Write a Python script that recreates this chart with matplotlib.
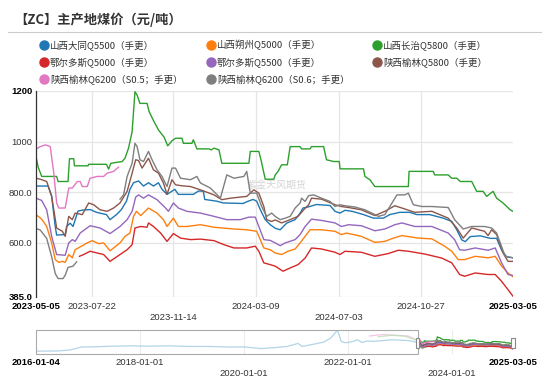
import numpy as np
import pandas as pd
import matplotlib
matplotlib.use('Agg')
import matplotlib.pyplot as plt
import matplotlib.dates as mdates
import matplotlib.transforms as mtransforms
from matplotlib.lines import Line2D
from matplotlib.patches import Rectangle

plt.rcParams['font.family'] = ['Noto Sans CJK SC', 'DejaVu Sans']

# ---- data (date, 元/吨) ----
datong_q5500 = [
    ('2023-05-05', 824), ('2023-05-22', 824), ('2023-05-27', 784), ('2023-06-01', 664), ('2023-06-03', 630),
    ('2023-06-15', 632), ('2023-06-17', 664), ('2023-06-22', 677), ('2023-06-26', 664), ('2023-07-03', 725),
    ('2023-07-10', 729), ('2023-07-20', 731), ('2023-07-29', 720), ('2023-08-12', 711), ('2023-08-17', 691),
    ('2023-08-26', 711), ('2023-09-02', 731), ('2023-09-09', 764), ('2023-09-14', 811), ('2023-09-19', 837),
    ('2023-09-26', 844), ('2023-10-03', 824), ('2023-10-10', 837), ('2023-10-17', 824), ('2023-10-24', 837),
    ('2023-10-29', 811), ('2023-11-05', 791), ('2023-11-10', 800), ('2023-11-16', 811), ('2023-11-21', 791),
    ('2023-12-12', 791), ('2023-12-19', 804), ('2023-12-26', 804), ('2023-12-28', 771), ('2024-01-14', 764),
    ('2024-01-23', 757), ('2024-02-20', 755), ('2024-02-27', 764), ('2024-03-05', 771), ('2024-03-10', 764),
    ('2024-03-15', 731), ('2024-03-22', 691), ('2024-03-29', 671), ('2024-04-05', 657), ('2024-04-12', 651),
    ('2024-04-21', 677), ('2024-05-03', 691), ('2024-05-10', 717), ('2024-05-14', 737), ('2024-05-21', 741),
    ('2024-06-02', 751), ('2024-06-21', 747), ('2024-06-28', 724), ('2024-07-05', 717), ('2024-07-12', 728),
    ('2024-07-22', 724), ('2024-08-07', 711), ('2024-08-21', 697), ('2024-09-04', 697), ('2024-09-13', 711),
    ('2024-09-27', 720), ('2024-10-11', 720), ('2024-10-21', 711), ('2024-11-08', 711), ('2024-11-27', 697),
    ('2024-12-09', 684), ('2024-12-16', 651), ('2024-12-23', 611), ('2024-12-28', 604), ('2025-01-04', 624),
    ('2025-01-18', 627), ('2025-02-01', 617), ('2025-02-10', 617), ('2025-02-17', 571), ('2025-02-24', 544),
    ('2025-03-05', 540),
]

shuozhou_q5000 = [
    ('2023-05-05', 711), ('2023-05-13', 693), ('2023-05-20', 664), ('2023-05-27', 599), ('2023-06-01', 533),
    ('2023-06-06', 522), ('2023-06-11', 526), ('2023-06-15', 522), ('2023-06-20', 553), ('2023-06-25', 540),
    ('2023-06-29', 572), ('2023-07-06', 583), ('2023-07-16', 599), ('2023-07-23', 608), ('2023-08-01', 596),
    ('2023-08-08', 599), ('2023-08-17', 568), ('2023-08-31', 599), ('2023-09-07', 625), ('2023-09-14', 638),
    ('2023-09-19', 704), ('2023-09-23', 724), ('2023-09-29', 707), ('2023-10-10', 737), ('2023-10-22', 717),
    ('2023-10-31', 691), ('2023-11-05', 664), ('2023-11-14', 697), ('2023-11-21', 664), ('2023-12-03', 664),
    ('2023-12-22', 671), ('2024-01-10', 661), ('2024-02-07', 654), ('2024-02-25', 651), ('2024-03-10', 645),
    ('2024-03-15', 612), ('2024-03-20', 579), ('2024-03-29', 572), ('2024-04-05', 559), ('2024-04-14', 553),
    ('2024-04-23', 566), ('2024-05-03', 575), ('2024-05-10', 599), ('2024-05-17', 625), ('2024-05-24', 651),
    ('2024-06-09', 651), ('2024-06-28', 645), ('2024-07-07', 632), ('2024-07-14', 638), ('2024-08-04', 625),
    ('2024-08-23', 601), ('2024-09-06', 605), ('2024-09-18', 618), ('2024-09-30', 628), ('2024-10-23', 618),
    ('2024-11-11', 615), ('2024-11-29', 586), ('2024-12-09', 566), ('2024-12-18', 533), ('2024-12-27', 533),
    ('2025-01-11', 546), ('2025-01-29', 540), ('2025-02-08', 546), ('2025-02-17', 507), ('2025-02-26', 480),
    ('2025-03-05', 465),
]

changzhi_q5800 = [
    ('2023-05-05', 941), ('2023-05-08', 899), ('2023-05-13', 862), ('2023-06-03', 862), ('2023-06-05', 842),
    ('2023-06-19', 842), ('2023-06-21', 932), ('2023-06-27', 932), ('2023-06-28', 904), ('2023-07-17', 904),
    ('2023-07-18', 910), ('2023-08-12', 910), ('2023-08-15', 891), ('2023-08-18', 914), ('2023-09-03', 921),
    ('2023-09-07', 934), ('2023-09-12', 974), ('2023-09-17', 1039), ('2023-09-21', 1197), ('2023-09-24', 1184),
    ('2023-09-28', 1151), ('2023-10-08', 1151), ('2023-10-11', 1118), ('2023-10-17', 1083), ('2023-10-24', 1046),
    ('2023-11-01', 1017), ('2023-11-06', 983), ('2023-11-12', 1003), ('2023-11-17', 1013), ('2023-11-26', 1013),
    ('2023-11-28', 993), ('2023-12-10', 993), ('2023-12-12', 1007), ('2023-12-17', 971), ('2024-01-03', 971),
    ('2024-01-06', 967), ('2024-01-10', 974), ('2024-01-17', 967), ('2024-01-21', 914), ('2024-02-28', 914),
    ('2024-03-01', 961), ('2024-03-13', 961), ('2024-03-16', 928), ('2024-03-22', 851), ('2024-04-03', 851),
    ('2024-04-05', 868), ('2024-04-09', 882), ('2024-04-14', 908), ('2024-04-22', 908), ('2024-04-26', 980),
    ('2024-05-10', 980), ('2024-05-12', 971), ('2024-05-24', 971), ('2024-05-26', 980), ('2024-06-12', 980),
    ('2024-06-16', 928), ('2024-06-26', 921), ('2024-07-04', 921), ('2024-07-05', 892), ('2024-08-07', 892),
    ('2024-08-09', 862), ('2024-08-16', 849), ('2024-08-23', 822), ('2024-10-09', 822), ('2024-10-10', 882),
    ('2024-11-13', 882), ('2024-11-15', 868), ('2024-12-04', 868), ('2024-12-09', 855), ('2024-12-16', 855),
    ('2024-12-21', 842), ('2025-01-06', 842), ('2025-01-13', 803), ('2025-01-22', 803), ('2025-01-27', 783),
    ('2025-02-05', 803), ('2025-02-10', 776), ('2025-02-19', 757), ('2025-03-01', 730), ('2025-03-05', 724),
]

ordos_q5000 = [
    ('2023-07-05', 546), ('2023-07-11', 553), ('2023-07-20', 566), ('2023-07-30', 559), ('2023-08-08', 553),
    ('2023-08-17', 526), ('2023-08-31', 553), ('2023-09-10', 572), ('2023-09-17', 592), ('2023-09-21', 658),
    ('2023-09-29', 664), ('2023-10-08', 661), ('2023-10-10', 678), ('2023-10-17', 664), ('2023-10-27', 638),
    ('2023-11-05', 605), ('2023-11-14', 636), ('2023-11-24', 618), ('2023-12-08', 612), ('2023-12-22', 614),
    ('2024-01-10', 608), ('2024-01-24', 592), ('2024-02-07', 579), ('2024-02-25', 579), ('2024-03-08', 586),
    ('2024-03-13', 566), ('2024-03-20', 520), ('2024-03-29', 513), ('2024-04-05', 507), ('2024-04-16', 487),
    ('2024-04-26', 500), ('2024-05-07', 513), ('2024-05-17', 539), ('2024-05-26', 579), ('2024-06-09', 575),
    ('2024-06-28', 562), ('2024-07-05', 553), ('2024-07-12', 566), ('2024-08-04', 562), ('2024-08-23', 546),
    ('2024-09-11', 557), ('2024-09-25', 570), ('2024-10-09', 566), ('2024-11-01', 555), ('2024-11-25', 539),
    ('2024-12-09', 520), ('2024-12-20', 474), ('2024-12-27', 467), ('2025-01-11', 480), ('2025-01-29', 474),
    ('2025-02-08', 474), ('2025-02-17', 447), ('2025-02-26', 414), ('2025-03-05', 388),
]

ordos_q5500 = [
    ('2023-05-05', 776), ('2023-05-13', 767), ('2023-05-20', 730), ('2023-05-27', 625), ('2023-06-03', 553),
    ('2023-06-15', 550), ('2023-06-20', 599), ('2023-06-25', 612), ('2023-06-29', 605), ('2023-07-06', 638),
    ('2023-07-20', 667), ('2023-08-03', 658), ('2023-08-17', 636), ('2023-08-31', 664), ('2023-09-10', 691),
    ('2023-09-17', 724), ('2023-09-22', 780), ('2023-09-26', 789), ('2023-10-03', 776), ('2023-10-10', 789),
    ('2023-10-22', 770), ('2023-11-03', 737), ('2023-11-07', 724), ('2023-11-14', 757), ('2023-11-21', 737),
    ('2023-12-03', 724), ('2023-12-22', 717), ('2024-01-10', 704), ('2024-01-28', 691), ('2024-02-16', 691),
    ('2024-02-28', 701), ('2024-03-08', 701), ('2024-03-13', 664), ('2024-03-20', 612), ('2024-03-29', 609),
    ('2024-04-05', 599), ('2024-04-12', 588), ('2024-04-19', 599), ('2024-05-03', 612), ('2024-05-10', 632),
    ('2024-05-17', 664), ('2024-05-26', 693), ('2024-06-09', 688), ('2024-06-28', 678), ('2024-07-07', 664),
    ('2024-07-17', 671), ('2024-08-04', 667), ('2024-08-23', 647), ('2024-09-06', 654), ('2024-09-20', 671),
    ('2024-09-30', 678), ('2024-10-18', 664), ('2024-11-11', 664), ('2024-12-04', 638), ('2024-12-13', 612),
    ('2024-12-20', 572), ('2024-12-27', 570), ('2025-01-11', 579), ('2025-01-29', 570), ('2025-02-08', 579),
    ('2025-02-17', 520), ('2025-02-26', 474), ('2025-03-05', 470),
]

yulin_q5800 = [
    ('2023-05-05', 855), ('2023-05-11', 851), ('2023-05-20', 842), ('2023-05-27', 783), ('2023-06-03', 658),
    ('2023-06-11', 645), ('2023-06-15', 625), ('2023-06-20', 704), ('2023-06-25', 691), ('2023-06-29', 717),
    ('2023-07-09', 711), ('2023-07-18', 757), ('2023-07-25', 750), ('2023-08-03', 730), ('2023-08-13', 724),
    ('2023-08-22', 737), ('2023-08-31', 757), ('2023-09-10', 803), ('2023-09-17', 875), ('2023-09-22', 928),
    ('2023-09-26', 925), ('2023-10-01', 895), ('2023-10-10', 934), ('2023-10-17', 888), ('2023-10-24', 875),
    ('2023-10-31', 836), ('2023-11-05', 791), ('2023-11-12', 849), ('2023-11-17', 829), ('2023-11-26', 825),
    ('2023-12-08', 822), ('2023-12-22', 809), ('2024-01-10', 789), ('2024-01-21', 770), ('2024-02-02', 776),
    ('2024-02-25', 783), ('2024-03-06', 809), ('2024-03-13', 796), ('2024-03-20', 743), ('2024-03-24', 691),
    ('2024-03-31', 684), ('2024-04-05', 690), ('2024-04-14', 678), ('2024-04-26', 691), ('2024-05-07', 704),
    ('2024-05-15', 730), ('2024-05-22', 750), ('2024-05-26', 776), ('2024-06-09', 772), ('2024-06-28', 750),
    ('2024-07-07', 743), ('2024-07-17', 739), ('2024-08-04', 730), ('2024-08-23', 707), ('2024-09-06', 724),
    ('2024-09-20', 746), ('2024-09-30', 737), ('2024-10-18', 720), ('2024-11-11', 724), ('2024-12-04', 697),
    ('2024-12-16', 658), ('2024-12-25', 618), ('2025-01-06', 658), ('2025-01-24', 645), ('2025-01-29', 628),
    ('2025-02-03', 651), ('2025-02-10', 632), ('2025-02-19', 559), ('2025-02-26', 526), ('2025-03-05', 526),
]

yulin_q6200_s05 = [
    ('2023-05-05', 970), ('2023-05-11', 980), ('2023-05-18', 987), ('2023-05-25', 980), ('2023-05-30', 875),
    ('2023-06-03', 757), ('2023-06-06', 737), ('2023-06-15', 737), ('2023-06-20', 816), ('2023-06-25', 816),
    ('2023-07-02', 842), ('2023-07-06', 842), ('2023-07-09', 822), ('2023-07-16', 822), ('2023-07-20', 855),
    ('2023-07-30', 862), ('2023-08-08', 862), ('2023-08-13', 875), ('2023-08-22', 882), ('2023-08-29', 899),
]

# gap in the middle (no quotes between early July and end of August 2023)
yulin_q6200_s06 = [
    ('2023-05-05', 656), ('2023-05-11', 650), ('2023-05-20', 617), ('2023-05-27', 544), ('2023-06-01', 478),
    ('2023-06-05', 458), ('2023-06-12', 458), ('2023-06-15', 471), ('2023-06-19', 502), ('2023-06-26', 507),
    ('2023-07-01', 524), ('2023-07-20', np.nan),
    ('2023-08-31', 772), ('2023-09-05', 789), ('2023-09-10', 862), ('2023-09-17', 914), ('2023-09-21', 993),
    ('2023-09-24', 980), ('2023-09-28', 928), ('2023-10-03', 921), ('2023-10-10', 961), ('2023-10-15', 928),
    ('2023-10-22', 888), ('2023-10-29', 862), ('2023-11-05', 822), ('2023-11-12', 895), ('2023-11-17', 895),
    ('2023-11-24', 855), ('2023-12-08', 849), ('2023-12-17', 862), ('2023-12-22', 836), ('2024-01-05', 816),
    ('2024-01-19', 776), ('2024-01-28', 868), ('2024-02-07', 855), ('2024-02-21', 862), ('2024-02-25', 882),
    ('2024-03-01', 796), ('2024-03-10', 796), ('2024-03-17', 743), ('2024-03-24', 704), ('2024-03-31', 717),
    ('2024-04-05', 704), ('2024-04-12', 691), ('2024-04-19', 697), ('2024-04-26', 704), ('2024-05-03', 737),
    ('2024-05-10', 757), ('2024-05-12', 776), ('2024-05-17', 763), ('2024-05-22', 786), ('2024-05-29', 789),
    ('2024-06-09', 776), ('2024-06-21', 763), ('2024-06-28', 743), ('2024-07-05', 750), ('2024-07-12', 746),
    ('2024-07-26', 741), ('2024-08-09', 730), ('2024-08-28', 704), ('2024-09-06', 711), ('2024-09-13', 743),
    ('2024-09-23', 789), ('2024-10-04', 789), ('2024-10-09', 796), ('2024-10-16', 750), ('2024-10-28', 743),
    ('2024-11-11', 743), ('2024-12-04', 739), ('2024-12-13', 691), ('2024-12-25', 654), ('2025-01-06', 664),
    ('2025-01-24', 664), ('2025-02-03', 658), ('2025-02-10', 638), ('2025-02-22', 546), ('2025-03-05', 540),
]

# long history, drawn faded inside the zoom slider
history_main = [
    ('2016-01-04', 250), ('2016-06-01', 260), ('2016-09-01', 330), ('2016-11-15', 520), ('2017-03-01', 540),
    ('2017-07-01', 580), ('2017-11-01', 600), ('2018-03-01', 580), ('2018-08-01', 600), ('2018-12-01', 560),
    ('2019-05-01', 560), ('2019-10-01', 520), ('2020-01-01', 530), ('2020-05-01', 420), ('2020-08-01', 480),
    ('2020-11-01', 560), ('2021-01-15', 760), ('2021-02-15', 560), ('2021-05-01', 700), ('2021-07-15', 850),
    ('2021-09-01', 1100), ('2021-10-20', 1640), ('2021-11-15', 900), ('2021-12-15', 800), ('2022-02-01', 880),
    ('2022-03-10', 1000), ('2022-04-10', 820), ('2022-05-15', 920), ('2022-07-01', 900), ('2022-09-01', 950),
    ('2022-11-01', 1000), ('2023-01-01', 980), ('2023-03-01', 950), ('2023-05-05', 824),
]
history_pink = [('2022-06-01', 1250), ('2022-09-01', 1350), ('2022-12-01', 1300), ('2023-03-01', 1250), ('2023-05-05', 970)]
history_green = [('2022-08-01', 1200), ('2022-11-01', 1300), ('2023-02-01', 1250), ('2023-05-05', 941)]

names = ['山西大同Q5500（手更）', '山西朔州Q5000（手更）', '山西长治Q5800（手更）',
         '鄂尔多斯Q5000（手更）', '鄂尔多斯Q5500（手更）', '陕西榆林Q5800（手更）',
         '陕西榆林Q6200（S0.5；手更）', '陕西榆林Q6200（S0.6；手更）']
colors = ['#1f77b4', '#ff7f0e', '#2ca02c', '#d62728', '#9467bd', '#8c564b', '#e377c2', '#7f7f7f']
series = [datong_q5500, shuozhou_q5000, changzhi_q5800, ordos_q5000,
          ordos_q5500, yulin_q5800, yulin_q6200_s05, yulin_q6200_s06]

y_ticks = [385, 600, 800, 1000, 1200]
y_labels = ['385.0', '600.0', '800.0', '1000', '1200']
# second row of the staggered date labels
x_ticks = ['2023-05-05', '2023-07-22', '2023-11-14', '2024-03-09', '2024-07-03', '2024-10-27', '2025-03-05']
x_lower = ['2023-11-14', '2024-07-03']
slider_ticks = ['2016-01-04', '2018-01-01', '2020-01-01', '2022-01-01', '2024-01-01', '2025-03-05']
slider_lower = ['2020-01-01', '2024-01-01']


def to_frame(pairs):
    df = pd.DataFrame(pairs, columns=['date', 'value'])
    df['date'] = pd.to_datetime(df['date'])
    return df


W, H = 550, 380


def px_box(l, t, r, b):
    return [l / W, 1 - b / H, (r - l) / W, (b - t) / H]


def date_labels(axis, ticks, lower, y_top):
    # date labels under an axis, in two staggered rows; first and last in bold
    trans = mtransforms.blended_transform_factory(axis.transData, fig.transFigure)
    for i, d in enumerate(ticks):
        row = 1 if d in lower else 0
        bold = i in (0, len(ticks) - 1)
        axis.text(mdates.date2num(pd.Timestamp(d)), 1 - (y_top + 10.5 * row) / H, d, transform=trans,
                  ha='center', va='center', family='Liberation Sans', fontsize=6.8,
                  fontweight='bold' if bold else 'normal', color='black' if bold else '#333333')


fig = plt.figure(figsize=(W / 100, H / 100), dpi=100)

# title + separator
fig.text(14 / W, 1 - 20 / H, '【ZC】主产地煤价（元/吨）', fontsize=9.5, fontweight='bold',
         color='#333333', va='center', ha='left')
fig.add_artist(Line2D([8 / W, 541 / W], [1 - 32 / H] * 2, color='#cccccc', lw=0.8))

# legend
col_x = [44, 211, 377]
row_y = [45, 62, 79]
for i, (name, color) in enumerate(zip(names, colors)):
    cx, cy = col_x[i % 3], row_y[i // 3]
    fig.add_artist(Line2D([cx / W], [1 - cy / H], marker='o', ms=6.5, color=color, lw=0))
    fig.text((cx + 6) / W, 1 - cy / H, name, fontsize=6.8, color='#333333', va='center', ha='left')

# ---- main chart ----
ax = fig.add_axes(px_box(36, 91, 513, 297))
x0, x1 = pd.Timestamp('2023-05-05'), pd.Timestamp('2025-03-05')
ax.set_xlim(x0, x1)
ax.set_ylim(385, 1200)

for y in y_ticks:
    ax.axhline(y, color='#e6e6e6', lw=0.9, zorder=0)
for d in x_ticks[1:-1]:
    ax.axvline(pd.Timestamp(d), color='#e6e6e6', lw=0.9, zorder=0)

for pairs, color in zip(series, colors):
    df = to_frame(pairs)
    ax.plot(df['date'], df['value'], color=color, lw=1.0, zorder=2)

ax.text(0.505, 0.545, '紫金天风期货', transform=ax.transAxes, fontsize=7.2,
        color='#d4d4d4', ha='center', va='center', zorder=1)

for side in ['top', 'right', 'bottom']:
    ax.spines[side].set_visible(False)
ax.spines['left'].set_color('#333333')
ax.spines['left'].set_linewidth(0.9)
ax.set_xticks([])
ax.set_yticks(y_ticks)
ax.set_yticklabels(y_labels, family='Liberation Sans', fontsize=6.8, color='#333333')
ax.tick_params(axis='y', length=0, pad=2.5)
for i in (0, -1):
    ax.get_yticklabels()[i].set_fontweight('bold')
    ax.get_yticklabels()[i].set_color('black')

date_labels(ax, x_ticks, x_lower, 306.7)

# ---- zoom slider ----
sx = fig.add_axes(px_box(36, 330, 513, 354))
s0, s1 = pd.Timestamp('2016-01-04'), pd.Timestamp('2025-03-05')
sx.set_xlim(s0, s1)
sx.set_ylim(60, 1650)
sx.axis('off')
for d in slider_ticks[1:-1]:
    sx.axvline(pd.Timestamp(d), color='#ececec', lw=0.8, zorder=0)

for pairs, color in [(history_main, '#9ecae1'), (history_pink, '#f2b8dc'), (history_green, '#b8e0b0')]:
    df = to_frame(pairs)
    sx.plot(df['date'], df['value'], color=color, lw=0.9, alpha=0.8, zorder=1)
for pairs, color in zip(series, colors):
    df = to_frame(pairs)
    sx.plot(df['date'], df['value'], color=color, lw=0.9, zorder=2)

strans = mtransforms.blended_transform_factory(sx.transData, sx.transAxes)
sx.add_patch(Rectangle((mdates.date2num(s0), 0), mdates.date2num(x0) - mdates.date2num(s0), 1,
                       transform=strans, fill=False, ec='#aaaaaa', lw=0.8, clip_on=False, zorder=3))

# window handles, drawn at the selected range ends
span = mdates.date2num(s1) - mdates.date2num(s0)
for d in (x0, x1):
    hx = 36 + 477 * (mdates.date2num(d) - mdates.date2num(s0)) / span
    fig.add_artist(Rectangle(((hx - 1.8) / W, 1 - 348 / H), 3.6 / W, 10 / H,
                             transform=fig.transFigure, fc='white', ec='#888888', lw=0.8))

date_labels(sx, slider_ticks, slider_lower, 362.7)

fig.savefig('out.png', dpi=100)
